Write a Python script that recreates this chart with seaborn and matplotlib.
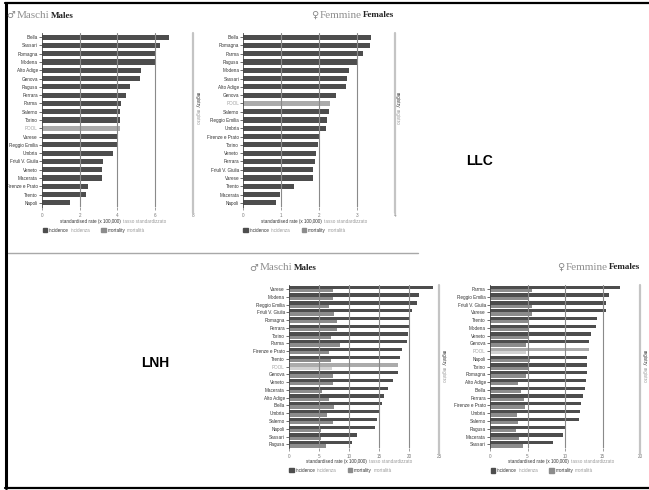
import numpy as np
import pandas as pd
import matplotlib
matplotlib.use("Agg")
import matplotlib.pyplot as plt
import seaborn as sns

# ---- data: standardised rates (x 100,000) ----
llc_m_regs = ["Biella", "Sassari", "Romagna", "Modena", "Alto Adige", "Genova", "Ragusa",
              "Ferrara", "Parma", "Salerno", "Torino", "POOL", "Varese", "Reggio Emilia",
              "Umbria", "Friuli V. Giulia", "Veneto", "Macerata", "Firenze e Prato",
              "Trento", "Napoli"]
llc_m_inc = [6.73, 6.27, 6.04, 6.02, 5.23, 5.18, 4.65, 4.47, 4.22, 4.14, 4.13, 4.12, 4.05,
             3.96, 3.76, 3.23, 3.20, 3.19, 2.46, 2.33, 1.50]

llc_f_regs = ["Biella", "Romagna", "Parma", "Ragusa", "Modena", "Sassari", "Alto Adige",
              "Genova", "POOL", "Salerno", "Reggio Emilia", "Umbria", "Firenze e Prato",
              "Torino", "Veneto", "Ferrara", "Friuli V. Giulia", "Varese", "Trento",
              "Macerata", "Napoli"]
llc_f_inc = [3.36, 3.33, 3.15, 2.99, 2.79, 2.73, 2.70, 2.45, 2.28, 2.27, 2.20, 2.17, 1.99,
             1.97, 1.91, 1.89, 1.85, 1.84, 1.34, 0.98, 0.86]

lnh_m_regs = ["Varese", "Modena", "Reggio Emilia", "Friuli V. Giulia", "Romagna", "Ferrara",
              "Torino", "Parma", "Firenze e Prato", "Trento", "POOL", "Genova", "Veneto",
              "Macerata", "Alto Adige", "Biella", "Umbria", "Salerno", "Napoli", "Sassari",
              "Ragusa"]
lnh_m_inc = [23.95, 21.67, 21.23, 20.50, 20.12, 20.10, 19.73, 19.57, 18.79, 18.40, 18.18,
             18.07, 17.24, 16.41, 15.85, 15.41, 14.91, 14.63, 14.25, 11.25, 10.53]
lnh_m_mort = [7.37, 7.37, 6.65, 7.54, 8.04, 7.93, 6.98, 8.48, 6.65, 6.93, 7.10, 7.37, 7.26,
              5.43, 6.65, 7.43, 6.26, 7.37, 5.40, 5.27, 6.15]

lnh_f_regs = ["Parma", "Reggio Emilia", "Friuli V. Giulia", "Varese", "Trento", "Modena",
              "Veneto", "Genova", "POOL", "Napoli", "Torino", "Romagna", "Alto Adige",
              "Biella", "Ferrara", "Firenze e Prato", "Umbria", "Salerno", "Ragusa",
              "Macerata", "Sassari"]
lnh_f_inc = [17.33, 15.82, 15.47, 15.45, 14.27, 14.18, 13.42, 13.24, 13.16, 12.93, 12.89,
             12.88, 12.80, 12.71, 12.40, 12.18, 12.04, 11.91, 10.00, 9.69, 8.44]
lnh_f_mort = [5.56, 5.10, 5.56, 5.56, 5.10, 5.00, 5.10, 4.80, 4.80, 5.30, 5.10, 4.80, 3.78,
              4.13, 4.53, 4.67, 3.64, 3.69, 3.47, 3.91, 4.44]

# ---- style ----
sns.set_style("white")
plt.rcParams["font.family"] = ["Liberation Sans", "DejaVu Sans"]

INC = "#4d4d4d"
MORT = "#8c8c8c"
POOL_INC = "#ababab"
POOL_MORT = "#d2d2d2"
GRID = "#8a8a8a"
SOFT = "#9a9a9a"
DARK = "#333333"
SMALL = 3.3
SERIF = ["Liberation Serif", "DejaVu Serif"]

W, H = 649, 490
fig = plt.figure(figsize=(W / 100, H / 100), dpi=100)
renderer = fig.canvas.get_renderer()


def fx(x):
    return x / W


def fy(y):
    return 1 - y / H


def axes_px(x0, x1, y0, y1):
    return fig.add_axes([fx(x0), fy(y1), (x1 - x0) / W, (y1 - y0) / H])


def chain(x, y, pieces, gap=2.0, align="left"):
    """Lay text pieces side by side on one baseline row (pixel units)."""
    texts = [fig.text(0, fy(y), s, va="center", ha="left", **kw) for s, kw in pieces]
    widths = [t.get_window_extent(renderer).width for t in texts]
    total = sum(widths) + gap * (len(texts) - 1)
    cur = x - total if align == "right" else x
    for t, w in zip(texts, widths):
        t.set_x(fx(cur))
        cur += w + gap


def vchain(x, y, pieces, gap=1.5):
    """Stack rotated text pieces downward from y (pixel units)."""
    cur = y
    for s, kw in pieces:
        t = fig.text(fx(x), fy(cur), s, rotation=270, va="top", ha="center", **kw)
        cur += t.get_window_extent(renderer).height + gap


def draw_panel(ax, regs, inc, mort, xmax, step):
    n = len(regs)
    if mort is None:
        df = pd.DataFrame({"registry": regs, "rate": inc})
        pal = {r: (POOL_INC if r == "POOL" else INC) for r in regs}
        sns.barplot(data=df, x="rate", y="registry", hue="registry", palette=pal,
                    legend=False, width=0.62, saturation=1, errorbar=None,
                    linewidth=0, orient="h", ax=ax)
    else:
        df = pd.DataFrame({"registry": regs * 2, "rate": inc + mort,
                           "measure": ["incidence"] * n + ["mortality"] * n})
        sns.barplot(data=df, x="rate", y="registry", hue="measure",
                    palette={"incidence": INC, "mortality": MORT}, legend=False,
                    width=0.84, saturation=1, errorbar=None, linewidth=0,
                    orient="h", ax=ax)
        i = regs.index("POOL")
        ax.containers[0][i].set_facecolor(POOL_INC)
        ax.containers[1][i].set_facecolor(POOL_MORT)

    ax.set_xlim(0, xmax)
    ax.set_ylim(n - 0.5, -0.5)
    ticks = np.arange(0, xmax + step / 2, step)
    ax.set_xticks(ticks)
    ax.set_xticklabels([f"{t:g}" for t in ticks])
    for t in ticks[1:-1]:
        ax.axvline(t, color=GRID, lw=0.8, zorder=3)
    ax.axvline(xmax, ymin=-0.035, ymax=1.0, clip_on=False, color="#c4c4c4",
               lw=1.6, zorder=3)
    ax.set_xlabel("")
    ax.set_ylabel("")
    for s in ["top", "right", "bottom"]:
        ax.spines[s].set_visible(False)
    ax.spines["left"].set_color("#444444")
    ax.spines["left"].set_linewidth(0.6)
    ax.tick_params(axis="y", length=2, width=0.5, pad=1, labelsize=SMALL,
                   colors=DARK, left=True)
    ax.tick_params(axis="x", length=2.5, width=0.5, pad=2, labelsize=SMALL,
                   colors="#777777", bottom=True)
    for lab in ax.get_yticklabels():
        if lab.get_text() == "POOL":
            lab.set_color("#a0a0a0")
    ax.set_facecolor("none")


def title(x, y, sym, it, en, align="left"):
    chain(x, y, [(sym, dict(fontsize=7, color="#888888", family=["DejaVu Sans"])),
                 (it, dict(fontsize=8, color="#8f8f8f", family=SERIF)),
                 (en, dict(fontsize=6.5, color="#222222", family=SERIF, weight="bold"))],
          gap=1.5, align=align)


def footer(x_lab, y_lab, x_leg, y_leg):
    chain(x_lab, y_lab, [("standardised rate (x 100,000)", dict(fontsize=SMALL, color=DARK)),
                         ("tasso standardizzato", dict(fontsize=SMALL, color=SOFT))],
          gap=2.5)
    sq = 4.5
    chain(x_leg + sq + 1.5, y_leg,
          [("incidence", dict(fontsize=SMALL, color=DARK)),
           ("incidenza", dict(fontsize=SMALL, color=SOFT))], gap=2)
    fig.patches.append(plt.Rectangle((fx(x_leg), fy(y_leg + sq / 2)), sq / W, sq / H,
                                     transform=fig.transFigure, color=INC, figure=fig))
    x2 = x_leg + 58.5
    fig.patches.append(plt.Rectangle((fx(x2), fy(y_leg + sq / 2)), sq / W, sq / H,
                                     transform=fig.transFigure, color=MORT, figure=fig))
    chain(x2 + sq + 1.5, y_leg,
          [("mortality", dict(fontsize=SMALL, color=DARK)),
           ("mortalità", dict(fontsize=SMALL, color=SOFT))], gap=2)


def registry_label(x, y):
    vchain(x, y, [("registry", dict(fontsize=SMALL, color=DARK)),
                  ("registro", dict(fontsize=SMALL, color=SOFT))])


# ---- LLC ----
ax1 = axes_px(42, 192.7, 33, 207)
draw_panel(ax1, llc_m_regs, llc_m_inc, None, 8, 2)
ax2 = axes_px(243.3, 395, 33, 207)
draw_panel(ax2, llc_f_regs, llc_f_inc, None, 4, 1)

# ---- LNH ----
ax3 = axes_px(289, 439.3, 285.1, 448.2)
draw_panel(ax3, lnh_m_regs, lnh_m_inc, lnh_m_mort, 25, 5)
ax4 = axes_px(490, 640, 285.1, 448.2)
draw_panel(ax4, lnh_f_regs, lnh_f_inc, lnh_f_mort, 20, 5)

# headings
title(6, 15.5, "♂", "Maschi", "Males")
title(394.5, 15, "♀", "Femmine", "Females", align="right")
title(249.5, 268, "♂", "Maschi", "Males")
title(640.5, 267, "♀", "Femmine", "Females", align="right")

footer(60, 221, 42.7, 230)
footer(261, 221, 243.3, 230)
footer(306, 461.3, 289.3, 470)
footer(507.7, 461.7, 490.7, 470.7)

registry_label(197.5, 92)
registry_label(397.5, 92)
registry_label(443, 350)
registry_label(644.5, 350)

# group names
fig.text(fx(479), fy(161), "LLC", fontsize=10, weight="bold", color="black",
         family=["Liberation Sans"], ha="center", va="center")
fig.text(fx(155.5), fy(363), "LNH", fontsize=10, weight="bold", color="black",
         family=["Liberation Sans"], ha="center", va="center")

# separators and frame
fig.add_artist(plt.Line2D([fx(8), fx(418)], [fy(253), fy(253)], color="#a8a8a8",
                          lw=1.0, transform=fig.transFigure))
fig.add_artist(plt.Line2D([fx(6), fx(6)], [fy(3.5), fy(488)], color="black",
                          lw=2.2, transform=fig.transFigure))
fig.add_artist(plt.Line2D([fx(5), fx(649)], [fy(3.5), fy(3.5)], color="black",
                          lw=1.6, transform=fig.transFigure))
fig.add_artist(plt.Line2D([fx(5), fx(649)], [fy(488), fy(488)], color="black",
                          lw=1.6, transform=fig.transFigure))

fig.savefig("out.png", dpi=100)
